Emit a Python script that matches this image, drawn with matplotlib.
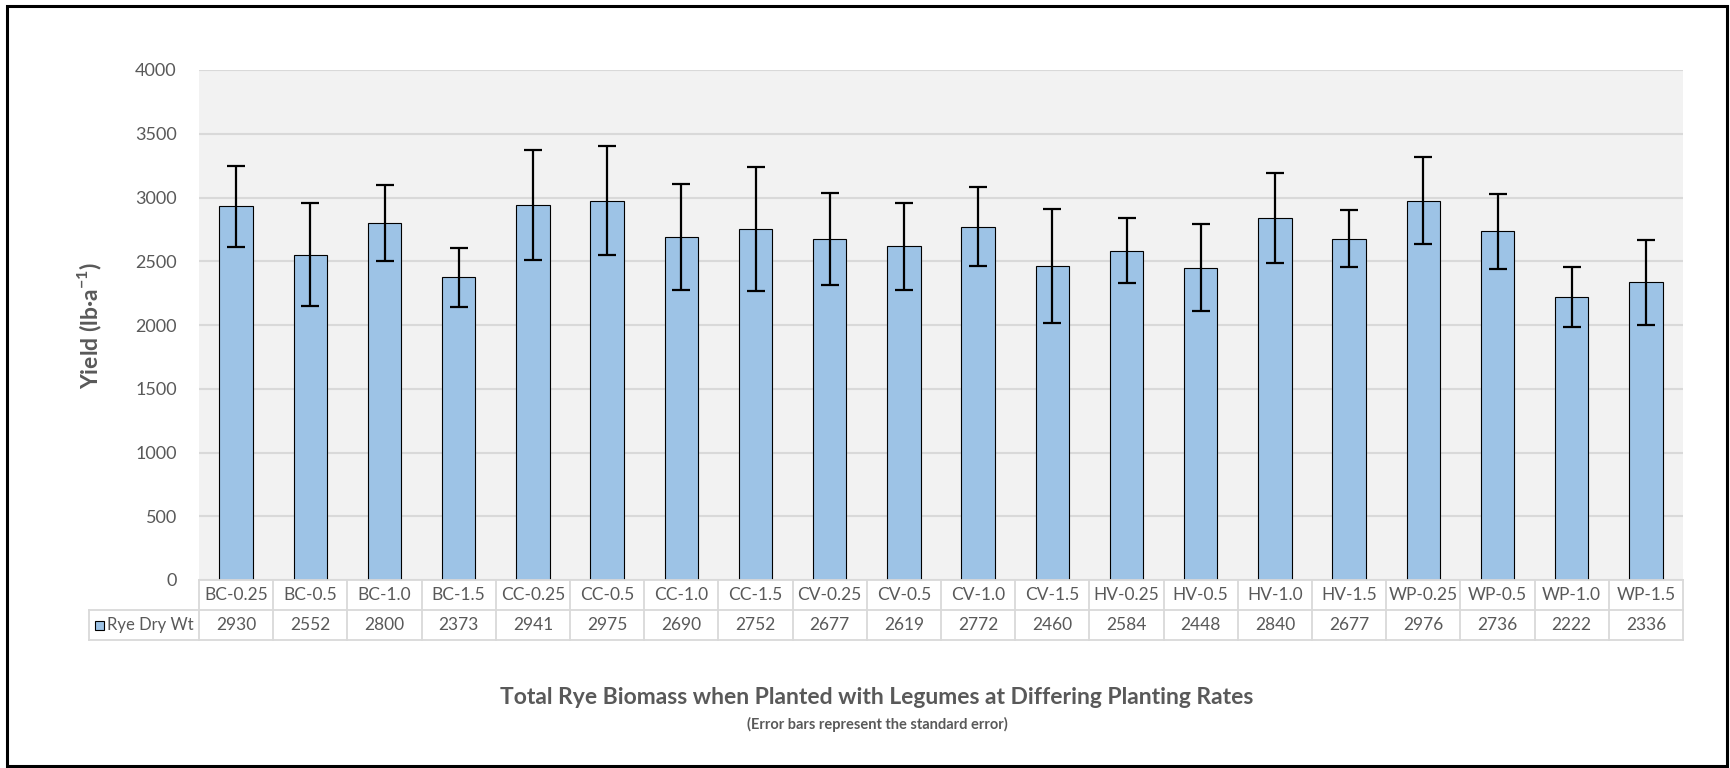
import matplotlib
matplotlib.use("Agg")
import matplotlib.pyplot as plt
import matplotlib.patches as mpatches

# ------- data -------
categories = ["BC-0.25", "BC-0.5", "BC-1.0", "BC-1.5",
              "CC-0.25", "CC-0.5", "CC-1.0", "CC-1.5",
              "CV-0.25", "CV-0.5", "CV-1.0", "CV-1.5",
              "HV-0.25", "HV-0.5", "HV-1.0", "HV-1.5",
              "WP-0.25", "WP-0.5", "WP-1.0", "WP-1.5"]
rye_dry_wt = [2930, 2552, 2800, 2373, 2941, 2975, 2690, 2752, 2677, 2619,
              2772, 2460, 2584, 2448, 2840, 2677, 2976, 2736, 2222, 2336]
std_err = [315, 404, 295, 233, 430, 427, 419, 486, 361, 341,
           308, 448, 253, 342, 350, 225, 341, 293, 234, 334]
y_ticks = [0, 500, 1000, 1500, 2000, 2500, 3000, 3500, 4000]
series_name = "Rye Dry Wt"

W, H = 1730, 768
BAR = "#9dc3e6"
GRAY = "#595959"
GRID = "#d9d9d9"
FONT = "Lato"

plt.rcParams["font.family"] = [FONT, "DejaVu Sans"]

fig = plt.figure(figsize=(W / 100, H / 100), dpi=100)

# plot area in pixels
L, R, T, B = 199, 1683, 70, 580
ax = fig.add_axes([L / W, 1 - B / H, (R - L) / W, (B - T) / H])
ax.set_facecolor("#f2f2f2")

x = list(range(len(categories)))
ax.bar(x, rye_dry_wt, width=0.45, color=BAR, edgecolor="black", linewidth=0.8,
       yerr=std_err, capsize=6.5,
       error_kw=dict(elinewidth=1.6, capthick=1.6, ecolor="black"), zorder=3)

ax.set_xlim(-0.5, len(categories) - 0.5)
ax.set_ylim(0, 4000)
ax.set_yticks(y_ticks)
ax.set_yticklabels([str(v) for v in y_ticks], color=GRAY, fontsize=13)
ax.tick_params(axis="y", length=0, pad=16)
ax.set_xticks([])
ax.grid(axis="y", color=GRID, linewidth=1.5, zorder=0)
for s in ax.spines.values():
    s.set_visible(False)
ax.set_ylabel("Yield (lb·a$^{\\mathregular{-1}}$)", fontsize=16.5, fontweight="bold",
              color=GRAY, labelpad=22)

# ------- data table under the axis -------
tT, tM, tB = 580, 609, 640
LEG = 89
tab = fig.add_axes([L / W, 1 - tB / H, (R - L) / W, (tB - tT) / H])
tab.set_xlim(-0.5, len(categories) - 0.5)
tab.set_ylim(0, 2)
tab.axis("off")
lk = dict(color=GRID, linewidth=1.3, clip_on=False)
unit = (R - L) / len(categories)
x_leg = -0.5 - (L - LEG) / unit
tab.plot([-0.5, len(categories) - 0.5], [2, 2], **lk)
tab.plot([x_leg, len(categories) - 0.5], [1, 1], **lk)
tab.plot([x_leg, len(categories) - 0.5], [0, 0], **lk)
tab.plot([x_leg, x_leg], [0, 1], **lk)
for i in range(len(categories) + 1):
    tab.plot([i - 0.5, i - 0.5], [0, 2], **lk)
for i, (c, v) in enumerate(zip(categories, rye_dry_wt)):
    tab.text(i, 1.5, c, ha="center", va="center", fontsize=12.5, color=GRAY)
    tab.text(i, 0.5, str(v), ha="center", va="center", fontsize=12.5, color=GRAY)
# legend key + series name
key_x = x_leg + 6 / unit
tab.add_patch(mpatches.Rectangle((key_x, 0.33), 9 / unit, 0.32, facecolor=BAR,
                                 edgecolor="black", linewidth=0.8, clip_on=False))
tab.text(key_x + 12 / unit, 0.5, series_name, ha="left", va="center",
         fontsize=12, color=GRAY)

# ------- titles -------
fig.text(877 / W, 1 - 698 / H, "Total Rye Biomass when Planted with Legumes at Differing Planting Rates",
         ha="center", va="center", fontsize=16.5, fontweight="bold", color=GRAY)
fig.text(877 / W, 1 - 724 / H, "(Error bars represent the standard error)",
         ha="center", va="center", fontsize=10.5, fontweight="bold", color=GRAY)

# outer frame
fig.patches.append(mpatches.Rectangle((7 / W, 2 / H), (1727 - 7) / W, (762 - 2) / H,
                                      transform=fig.transFigure, fill=False,
                                      edgecolor="black", linewidth=2.2))

fig.savefig("out.png", dpi=100, facecolor="white")
